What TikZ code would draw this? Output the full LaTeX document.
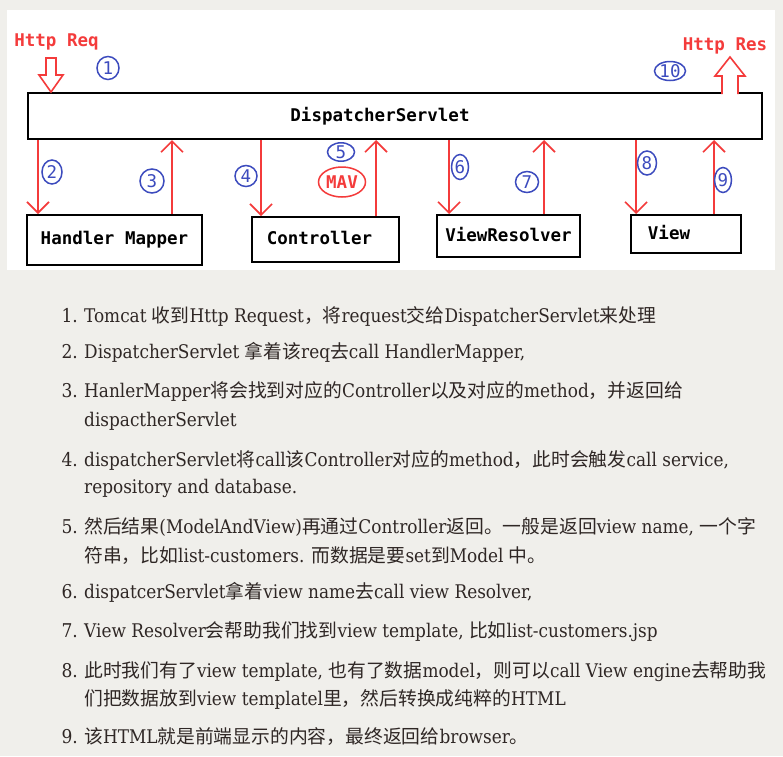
\documentclass[tikz,border=0pt]{standalone}
\usepackage{fontspec}
\setmainfont{DejaVu Serif Condensed}
\newfontfamily\cjk{Noto Sans CJK SC}
\newfontfamily\diagfont{DejaVu Sans Mono}
\usepackage{xcolor}
\usetikzlibrary{arrows.meta,positioning,shapes.geometric}

\definecolor{pagebg}{HTML}{F0EFEB}
\definecolor{arrred}{HTML}{F43B3B}
\definecolor{numblue}{HTML}{3C4BBE}
\definecolor{bodytext}{HTML}{2F2725}

\tikzset{
  box/.style={draw=black, line width=2pt, fill=white, inner sep=0pt},
  boxtext/.style={inner sep=0pt, font=\diagfont\bfseries\fontsize{17.5}{20}\selectfont},
  reqarrow/.style={draw=arrred, line width=1.6pt, -{Straight Barb[length=11pt,width=22pt,line width=1.6pt]}},
  bigarrow/.style={draw=arrred, line width=1.6pt, fill=white, line join=miter},
  stepnum/.style={ellipse, draw=numblue, line width=1.5pt, text=numblue, inner sep=0pt,
    font=\diagfont\fontsize{17.5}{18}\selectfont},
  itemnum/.style={anchor=base east, inner sep=0pt, text=bodytext, font=\fontsize{19}{22}\selectfont},
  itemtext/.style={anchor=base west, inner sep=0pt, text=bodytext, font=\fontsize{18.8}{22}\selectfont},
}

\begin{document}
\begin{tikzpicture}[x=1pt,y=-1pt]
  % Page and the white panel of the diagram
  \fill[pagebg] (0,0) rectangle (783,756);
  \fill[white] (7,10) rectangle (775,270);

  % Boxes
  \node[box, minimum width=734pt, minimum height=46pt] (ds) at (395,116) {};
  \node[box, minimum width=175pt, minimum height=50pt] (hm) at (114.5,240) {};
  \node[box, minimum width=147pt, minimum height=45pt] (ctrl) at (325.5,239.5) {};
  \node[box, minimum width=143pt, minimum height=42pt] (vr) at (508.5,236) {};
  \node[box, minimum width=110pt, minimum height=38pt] (view) at (686,234) {};

  % Box texts
  \node[boxtext] (dstext) at ([xshift=-15pt]ds.center) {DispatcherServlet};
  \node[boxtext] (hmtext) at (hm.center) {Handler Mapper};
  \node[boxtext] (ctrltext) at ([xshift=-6pt,yshift=2pt]ctrl.center) {Controller};
  \node[boxtext] (vrtext) at ([yshift=1pt]vr.center) {ViewResolver};
  \node[boxtext] (viewtext) at ([xshift=-17pt,yshift=1pt]view.center) {View};

  % Request and response
  \node[boxtext, text=arrred] (req) at (56.5,42) {Http Req};
  \node[boxtext, text=arrred] (res) at (725,46) {Http Res};
  \draw[bigarrow] (46,58) -- (56,58) -- (56,75) -- (63,75) -- (51,92) -- (39,75) -- (46,75) -- cycle;
  \draw[bigarrow] (722,94) -- (722,76) -- (715,76) -- (730,57) -- (745,76) -- (738,76) -- (738,94);

  % x positions of the calls
  \foreach \name/\x in {a2/38, a3/172, a4/261, a5/376, a6/449, a7/544, a8/636, a9/714}
    \coordinate (\name) at (\x,0);

  % Calls between DispatcherServlet and the boxes
  \draw[reqarrow] (ds.south -| a2) -- (hm.north -| a2);
  \draw[reqarrow] (hm.north -| a3) -- (ds.south -| a3);
  \draw[reqarrow] (ds.south -| a4) -- (ctrl.north -| a4);
  \draw[reqarrow] (ctrl.north -| a5) -- (ds.south -| a5);
  \draw[reqarrow] (ds.south -| a6) -- (vr.north -| a6);
  \draw[reqarrow] (vr.north -| a7) -- (ds.south -| a7);
  \draw[reqarrow] (ds.south -| a8) -- (view.north -| a8);
  \draw[reqarrow] (view.north -| a9) -- (ds.south -| a9);

  % Step numbers
  \foreach \n/\x/\y/\w/\h in {1/108/68/22/23, 2/52/172/20/24, 3/152/181/24/24, 4/246/176/22/21,
      5/341/152/27/18, 6/460/167/17/25, 7/527/182/23/21, 8/647/163/19/24, 9/723/180/17/25, 10/670/71/31/19}
    \node[stepnum, minimum width=\w pt, minimum height=\h pt] (s\n) at (\x,\y) {\n};
  \node[stepnum, draw=arrred, text=arrred, minimum width=47pt, minimum height=30pt,
    font=\diagfont\bfseries\fontsize{17.5}{20}\selectfont] (mav) at (342,182) {MAV};

  % Numbered list
  \foreach \n/\y in {1/322, 2/358, 3/397, 4/466, 5/533, 6/598, 7/637, 8/677, 9/743}
    \node[itemnum] (num\n) at (78,\y) {\n.};
  \node[itemtext] (t1) at (84,322) {Tomcat {\cjk 收到}Http Request{\cjk ，将}request{\cjk 交给}DispatcherServlet{\cjk 来处理}};
  \node[itemtext] (t2) at (84,358) {DispatcherServlet {\cjk 拿着该}req{\cjk 去}call HandlerMapper,};
  \node[itemtext] (t3) at (84,397) {HanlerMapper{\cjk 将会找到对应的}Controller{\cjk 以及对应的}method{\cjk ，并返回给}};
  \node[itemtext] (t3b) at (84,426) {dispactherServlet};
  \node[itemtext] (t4) at (84,466) {dispatcherServlet{\cjk 将}call{\cjk 该}Controller{\cjk 对应的}method{\cjk ，此时会触发}call service,};
  \node[itemtext] (t4b) at (84,493) {repository and database.};
  \node[itemtext] (t5) at (84,533) {{\cjk 然后结果}(ModelAndView){\cjk 再通过}Controller{\cjk 返回。一般是返回}view name, {\cjk 一个字}};
  \node[itemtext] (t5b) at (84,562) {{\cjk 符串，比如}list-customers. {\cjk 而数据是要}set{\cjk 到}Model {\cjk 中。}};
  \node[itemtext] (t6) at (84,598) {dispatcerServlet{\cjk 拿着}view name{\cjk 去}call view Resolver,};
  \node[itemtext] (t7) at (84,637) {View Resolver{\cjk 会帮助我们找到}view template, {\cjk 比如}list-customers.jsp};
  \node[itemtext] (t8) at (84,677) {{\cjk 此时我们有了}view template, {\cjk 也有了数据}model{\cjk ，则可以}call View engine{\cjk 去帮助我}};
  \node[itemtext] (t8b) at (84,705) {{\cjk 们把数据放到}view templatel{\cjk 里，然后转换成纯粹的}HTML};
  \node[itemtext] (t9) at (84,743) {{\cjk 该}HTML{\cjk 就是前端显示的内容，最终返回给}browser{\cjk 。}};
\end{tikzpicture}
\end{document}
